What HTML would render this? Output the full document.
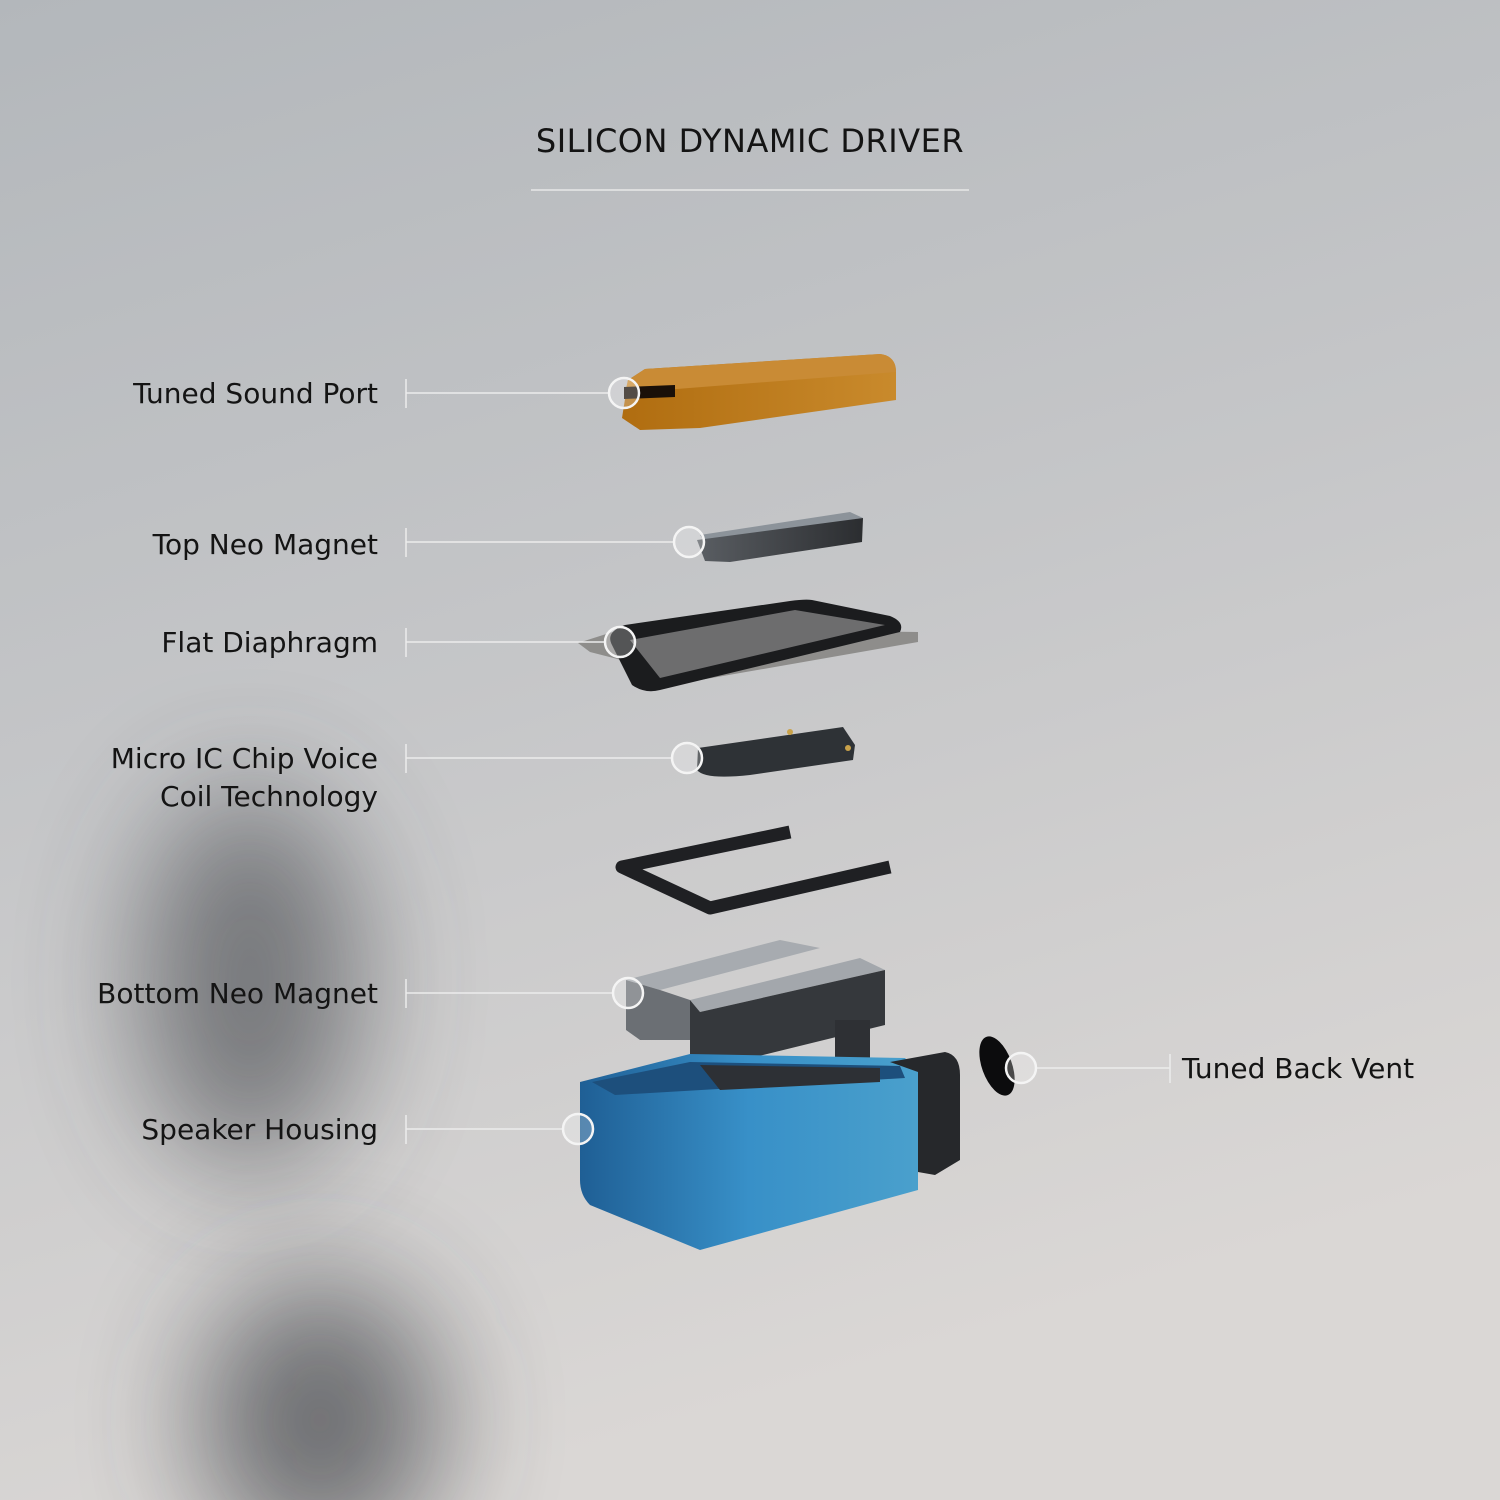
<!DOCTYPE html>
<html><head><meta charset="utf-8"><style>
html,body{margin:0;padding:0;width:1500px;height:1500px;overflow:hidden}
svg{display:block}
text{font-family:"DejaVu Sans","Liberation Sans",sans-serif;fill:#141414}
</style></head><body>
<svg width="1500" height="1500" viewBox="0 0 1500 1500" xmlns="http://www.w3.org/2000/svg">
<defs>
<linearGradient id="bg" x1="0" y1="0" x2="0.3" y2="1">
<stop offset="0" stop-color="#b3b7bb"/><stop offset="0.5" stop-color="#c5c6c8"/><stop offset="1" stop-color="#dad7d5"/>
</linearGradient>
<filter id="blur" x="-80%" y="-80%" width="260%" height="260%"><feGaussianBlur stdDeviation="60"/></filter>
<linearGradient id="org" x1="0" y1="0" x2="1" y2="0"><stop offset="0" stop-color="#b06d10"/><stop offset="1" stop-color="#c98a2c"/></linearGradient>
<linearGradient id="blue" x1="0" y1="0" x2="1" y2="0"><stop offset="0" stop-color="#1f5f95"/><stop offset="0.5" stop-color="#3890c8"/><stop offset="1" stop-color="#4aa0cc"/></linearGradient>
<linearGradient id="gm" x1="0" y1="0" x2="1" y2="0"><stop offset="0" stop-color="#5a5e63"/><stop offset="1" stop-color="#2b2d30"/></linearGradient>
</defs>
<rect width="1500" height="1500" fill="url(#bg)"/>
<ellipse cx="250" cy="980" rx="110" ry="190" fill="#3c3f45" opacity="0.6" filter="url(#blur)"/>
<ellipse cx="320" cy="1420" rx="120" ry="140" fill="#34373c" opacity="0.65" filter="url(#blur)"/>

<text x="750" y="152" text-anchor="middle" font-size="32" letter-spacing="0.5">SILICON DYNAMIC DRIVER</text>
<line x1="531" y1="190" x2="969" y2="190" stroke="#e8e8e8" stroke-width="1.5"/>

<!-- orange port -->
<path d="M628 380 L645 369 L880 354 Q896 356 896 372 L896 400 L700 428 L640 430 L622 418 Z" fill="url(#org)"/>
<path d="M628 380 L645 369 L880 354 Q896 356 896 372 L625 393 Z" fill="#c98b35"/>
<path d="M624 387 L675 385 L675 397 L624 399 Z" fill="#1a1008"/>
<!-- top magnet -->
<path d="M700 535 L850 512 L863 518 L705 542 Z" fill="#8c939a"/>
<path d="M697 540 L863 518 L862 542 L730 562 L705 561 Z" fill="url(#gm)"/>
<!-- diaphragm -->
<path d="M578 643 L625 628 L918 632 L918 642 L700 680 L590 652 Z" fill="#8e8d8b"/>
<path d="M612 645 Q605 632 625 625 L790 601 Q805 599 812 600 L890 616 Q905 622 900 632 L660 690 Q645 694 632 685 Z" fill="#1b1c1e"/>
<path d="M630 640 L795 610 L885 625 L660 678 Z" fill="#6d6d6e"/>
<!-- chip -->
<path d="M698 748 L843 727 L855 745 L853 760 L750 775 Q705 780 697 770 Z" fill="#2e3236"/>
<circle cx="790" cy="732" r="3" fill="#c9a24a"/><circle cx="848" cy="748" r="3" fill="#c9a24a"/>
<!-- coil U -->
<polyline points="790,832 622,867 710,908 890,867" fill="none" stroke="#1f2023" stroke-width="13" stroke-linejoin="round"/>
<!-- bottom magnet -->
<path d="M626 980 L780 940 L820 948 L660 990 Z" fill="#a7abb0"/>
<path d="M626 980 L660 990 L690 1000 L690 1040 L640 1040 L626 1030 Z" fill="#6b6f74"/>
<path d="M690 1000 L860 958 L885 970 L700 1012 Z" fill="#a3a7ac"/>
<path d="M690 1000 L700 1012 L885 970 L885 1025 L710 1068 L690 1060 Z" fill="#35383c"/>
<rect x="835" y="1020" width="35" height="70" fill="#2e3034"/>
<!-- housing -->
<path d="M580 1082 L690 1054 L905 1058 L918 1072 L918 1190 L700 1250 L590 1205 Q580 1195 580 1180 Z" fill="url(#blue)"/>
<path d="M592 1082 L690 1062 L900 1066 L905 1078 L615 1095 Z" fill="#1d4f7c"/>
<path d="M700 1065 L880 1068 L880 1082 L720 1090 Z" fill="#2d3035"/>
<path d="M890 1062 L945 1052 Q960 1055 960 1075 L960 1160 L935 1175 L918 1172 L918 1072 Z" fill="#26282b"/>
<!-- vent -->
<ellipse cx="997" cy="1066" rx="15" ry="31" fill="#0c0c0d" transform="rotate(-20 997 1066)"/>

<!-- callouts -->
<g stroke="#ececec" stroke-width="1.5" fill="none">
<line x1="406" y1="393" x2="609" y2="393"/><line x1="406" y1="379" x2="406" y2="408"/>
<line x1="406" y1="542" x2="674" y2="542"/><line x1="406" y1="528" x2="406" y2="557"/>
<line x1="406" y1="642" x2="605" y2="642"/><line x1="406" y1="628" x2="406" y2="657"/>
<line x1="406" y1="758" x2="672" y2="758"/><line x1="406" y1="744" x2="406" y2="773"/>
<line x1="406" y1="993" x2="613" y2="993"/><line x1="406" y1="979" x2="406" y2="1008"/>
<line x1="406" y1="1129" x2="563" y2="1129"/><line x1="406" y1="1115" x2="406" y2="1144"/>
<line x1="1036" y1="1068" x2="1170" y2="1068"/><line x1="1170" y1="1054" x2="1170" y2="1083"/>
</g>
<g stroke="#f4f4f4" stroke-width="2.5" fill="rgba(255,255,255,0.25)">
<circle cx="624" cy="393" r="15"/><circle cx="689" cy="542" r="15"/><circle cx="620" cy="642" r="15"/>
<circle cx="687" cy="758" r="15"/><circle cx="628" cy="993" r="15"/><circle cx="578" cy="1129" r="15"/>
<circle cx="1021" cy="1068" r="15"/>
</g>

<g font-size="28" text-anchor="end">
<text x="378" y="403">Tuned Sound Port</text>
<text x="378" y="554">Top Neo Magnet</text>
<text x="378" y="652">Flat Diaphragm</text>
<text x="378" y="768">Micro IC Chip Voice</text>
<text x="378" y="806">Coil Technology</text>
<text x="378" y="1003">Bottom Neo Magnet</text>
<text x="378" y="1139">Speaker Housing</text>
</g>
<text x="1182" y="1078" font-size="28">Tuned Back Vent</text>
</svg>
</body></html>
